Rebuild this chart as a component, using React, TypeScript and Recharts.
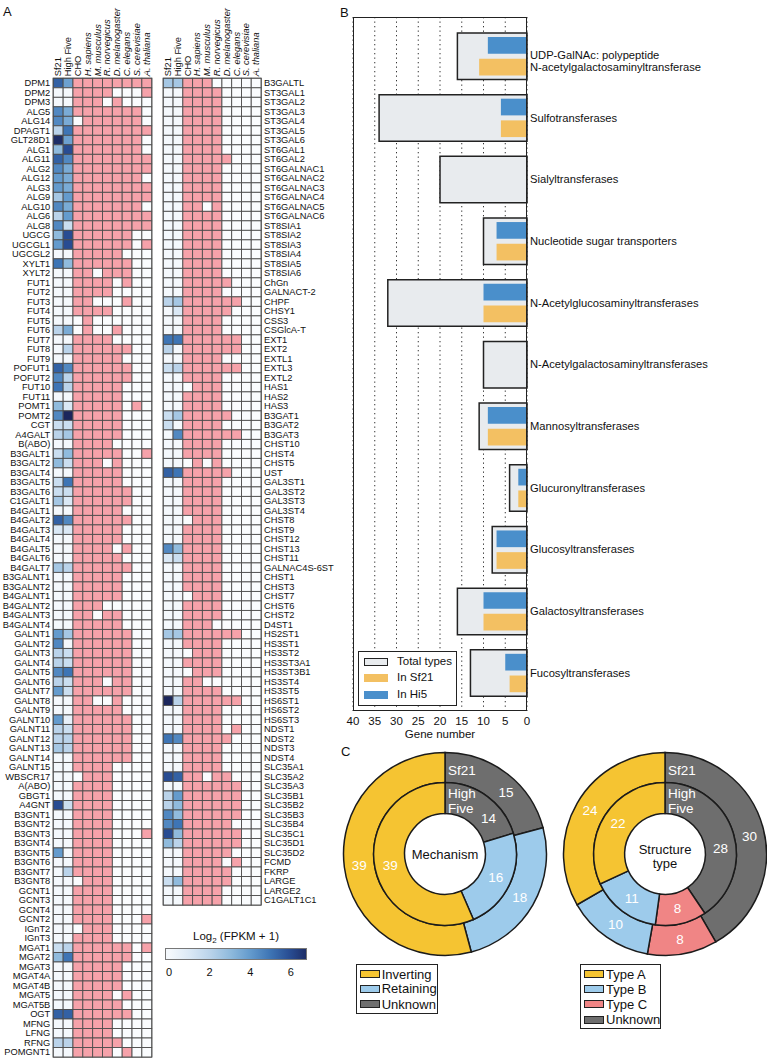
import React from 'react';
import {
  ScatterChart, Scatter, XAxis, YAxis, ReferenceArea, BarChart, Bar, CartesianGrid,
  PieChart, Pie, Cell, ComposedChart,
} from 'recharts';

const FONT = '"Liberation Sans", Arial, Helvetica, sans-serif';

// ---------------- Panel A data ----------------
const COLUMN_LABELS = ['Sf21', 'High Five', 'CHO', 'H. sapiens', 'M. musculus', 'R. norvegicus', 'D. melanogaster', 'C. elegans', 'S. cerevisiae', 'A. thaliana'];
const COLUMN_ITALIC = [false, false, false, true, true, true, true, true, true, true];

const LEFT_GENES = ['DPM1','DPM2','DPM3','ALG5','ALG14','DPAGT1','GLT28D1','ALG1','ALG11','ALG2','ALG12','ALG3','ALG9','ALG10','ALG6','ALG8','UGCG','UGCGL1','UGCGL2','XYLT1','XYLT2',
  'FUT1','FUT2','FUT3','FUT4','FUT5','FUT6','FUT7','FUT8','FUT9','POFUT1','POFUT2','FUT10','FUT11','POMT1','POMT2','CGT','A4GALT','B(ABO)','B3GALT1','B3GALT2','B3GALT4','B3GALT5','B3GALT6','C1GALT1','B4GALT1','B4GALT2','B4GALT3','B4GALT4',
  'B4GALT5','B4GALT6','B4GALT7','B3GALNT1','B3GALNT2','B4GALNT1','B4GALNT2','B4GALNT3','B4GALNT4','GALNT1','GALNT2','GALNT3','GALNT4','GALNT5','GALNT6','GALNT7','GALNT8','GALNT9','GALNT10','GALNT11','GALNT12','GALNT13','GALNT14','GALNT15','WBSCR17','A(ABO)','GBGT1','A4GNT',
  'B3GNT1','B3GNT2','B3GNT3','B3GNT4','B3GNT5','B3GNT6','B3GNT7','B3GNT8','GCNT1','GCNT3','GCNT4','GCNT2','IGnT2','IGnT3','MGAT1','MGAT2','MGAT3','MGAT4A','MGAT4B','MGAT5','MGAT5B','OGT','MFNG','LFNG','RFNG','POMGNT1'];

const LEFT_SF21 = [5.5,0,0,4.5,4.5,2,6.8,3,5.5,4.5,4,4,2.5,4.5,2,4.5,3,4,0,5,0,
  0,0,0,0,0,2,0,0,0,5.5,4.5,5,0,3,4.5,1.5,2,0,1.5,3,0,1.5,1.5,2.5,0,5.5,1,0,
  0,0,2.5,0,0,0,0,0,0,4,4.5,2,2,4.5,2,4,0,0,4,2,2,2.5,0,0,0,0,0,6,
  0,0,0,0,4,0,0,0,0,0,0,0,0,0,1.5,3,0,0,0,0,0,5.5,0,0,2,0];

const LEFT_HI5 = [3.8,0,0,3.5,3.5,5,3.8,6,4.5,3.5,3.5,3.5,4,3.5,4,1.5,6,6,0,3,0,
  0,0,0,0,0,3.5,0,2,0,4.5,2,2,0,1,7,1.5,2.5,0,3,1.5,0,5,1.5,1,0,4.5,1,0,
  0,0,2,0,0,0,0,0,0,2.5,0,1.5,1.5,5,1.5,1.5,0,0,0.5,1.5,2,2,0,0,0,0,0,1.5,
  0,0,0,0,0,0,2,0,0,0,0,0,0,0,2,5,0,0,0,0,0,5.5,0,0,2,0];

// presence in CHO, H.sapiens, M.musculus, R.norvegicus, D.melanogaster, C.elegans, S.cerevisiae, A.thaliana
const LEFT_PRESENCE = ['11111111','11110001','11101000','11111110','01111110','11111111','11111110','11111110','11111111','11111111','11111110','11111111','11111111','11111110','11111111','11111111','11111100','11111101','11111000','11111100','11011100',
  '11110100','11110000','11000100','11110000','01000000','01001000','11110000','11111100','11111000','11111100','11111100','11111000','11111000','11111010','11111000','11111000','11111000','11110000','11111001','11101000','11111000','11111000','11111100','11111100','11111000','11111100','11111000','11111000',
  '11110100','11111000','11111100','11111000','11111000','11111000','11100000','11011000','11111000','11111100','11111100','11111100','11111100','11111100','11101100','11111100','11001000','11111000','11111100','11111100','11111100','11111100','11111100','11110000','01110000','11110000','11110000','11110000',
  '11110000','11110000','11110001','11110000','11110000','11110000','11110000','01110000','11110000','11110000','11110000','11110001','01110000','11110000','11111101','11111100','11111000','11111000','11111000','11110100','11111000','11111100','11110000','11110000','11111000','11110100'];

const RIGHT_GENES = ['B3GALTL','ST3GAL1','ST3GAL2','ST3GAL3','ST3GAL4','ST3GAL5','ST3GAL6','ST6GAL1','ST6GAL2','ST6GALNAC1','ST6GALNAC2','ST6GALNAC3','ST6GALNAC4','ST6GALNAC5','ST6GALNAC6','ST8SIA1','ST8SIA2','ST8SIA3','ST8SIA4','ST8SIA5','ST8SIA6',
  'ChGn','GALNACT-2','CHPF','CHSY1','CSS3','CSGlcA-T','EXT1','EXT2','EXTL1','EXTL3','EXTL2','HAS1','HAS2','HAS3','B3GAT1','B3GAT2','B3GAT3','CHST10','CHST4','CHST5','UST','GAL3ST1','GAL3ST2','GAL3ST3','GAL3ST4','CHST8','CHST9','CHST12',
  'CHST13','CHST11','GALNAC4S-6ST','CHST1','CHST3','CHST7','CHST6','CHST2','D4ST1','HS2ST1','HS3ST1','HS3ST2','HS3ST3A1','HS3ST3B1','HS3ST4','HS3ST5','HS6ST1','HS6ST2','HS6ST3','NDST1','NDST2','NDST3','NDST4','SLC35A1','SLC35A2','SLC35A3','SLC35B1','SLC35B2',
  'SLC35B3','SLC35B4','SLC35C1','SLC35D1','SLC35D2','FCMD','FKRP','LARGE','LARGE2','C1GALT1C1'];

const RIGHT_SF21 = [2.5,0,0,0,0,0,0,0,0,0,0,0,0,0,0,0,0,0,0,0,0,
  0,0,2,0,0,0,5,2,0,1.5,0,0,0,0,1.5,1.5,0,0,0,0,5.5,0,0,0,0,0,0,0,
  4.5,1,0,0,0,0,0,0,0,2.5,0,0,0,0,0,0,7,0,0,0,5,0,0,0,6,0,2,2,
  4.5,4.5,6,3,0,0,0,1.5,0,0];

const RIGHT_HI5 = [2.5,0,0,0,0,0,0,0,0,0,0,0,0,0,0,0,0,0,0,0,0,
  0,0,2.5,1,0,0,5,0,0,2,0,0,0,0,2.5,0,4.5,0,0,0,5,0,0,0,0,0,0,0,
  3,1.5,0,0,0,0,0,0,0,2.5,0,0,0,0,0,0,2,0,0,0,4.5,0,0,0,5.5,0,4,3,
  3,5,3,2,0,0,0,3,0,0];

const RIGHT_PRESENCE = ['11100000','11110000','11110000','11110000','11110000','11110000','11110000','11110000','11111000','11110000','11110000','11110000','11110000','11010000','11110000','11110000','11110000','11110000','11110000','11110000','11110000',
  '11111000','11110000','11111100','11111000','11110000','11110000','11111100','11111100','11110000','11111100','11110000','01110000','11110000','11110000','11111000','11110000','11111100','11110000','11110000','01010000','11111000','11110000','11110000','11110000','11110000','01110000','11110000','11110000',
  '11110000','11110000','11110000','11110000','11110000','01110000','11110000','11110000','11100000','11111100','11110000','01110000','11110000','01110000','11000000','11110000','11111100','11110000','11110000','11110100','11111000','11110000','11110000','11110000','11011000','11111100','11111100','11111100',
  '11111100','11111000','11111100','11111100','11111000','11110100','11111000','11111000','11110000','11110000'];

const COLORBAR_TICKS = [0, 2, 4, 6];
const COLORBAR_MIN = -0.2;
const COLORBAR_MAX = 6.8;

// ---------------- Panel B data ----------------
const B_CATEGORIES = ['UDP-GalNAc: polypeptide\nN-acetylgalactosaminyltransferase', 'Sulfotransferases', 'Sialyltransferases', 'Nucleotide sugar transporters', 'N-Acetylglucosaminyltransferases', 'N-Acetylgalactosaminyltransferases', 'Mannosyltransferases', 'Glucuronyltransferases', 'Glucosyltransferases', 'Galactosyltransferases', 'Fucosyltransferases'];
const B_TOTAL = [16, 34, 20, 10, 32, 10, 11, 4, 8, 16, 13];
const B_SF21 = [11, 6, 0, 7, 10, 0, 9, 2, 7, 10, 4];
const B_HI5 = [9, 6, 0, 7, 10, 0, 9, 2, 7, 10, 5];
const B_TICKS = [0, 5, 10, 15, 20, 25, 30, 35, 40];

// ---------------- Panel C data ----------------
const MECH_NAMES = ['Unknown', 'Retaining', 'Inverting'];
const MECH_SF21 = [15, 18, 39];
const MECH_HI5 = [14, 16, 39];
const STRUCT_NAMES = ['Unknown', 'Type C', 'Type B', 'Type A'];
const STRUCT_SF21 = [30, 8, 10, 24];
const STRUCT_HI5 = [28, 8, 11, 22];

// ---------------- Styles ----------------
const PINK = '#f6a2aa';
const ABSENT = '#fafcfe';
const GRID_STROKE = '#4d4d4d';
const B_BLUE = '#4a8fcb';
const B_ORANGE = '#f3c062';
const B_GREY = '#e8ebee';
const C_COLORS: Record<string, string> = {
  Unknown: '#6e6e6e', Retaining: '#9dcbeb', Inverting: '#f5c432',
  'Type A': '#f5c432', 'Type B': '#9dcbeb', 'Type C': '#f08585',
};

const BLUE_STOPS: [number, number[]][] = [
  [0, [244, 248, 252]],
  [1, [218, 232, 245]],
  [2, [186, 211, 234]],
  [3, [144, 187, 221]],
  [4, [100, 155, 205]],
  [5, [62, 117, 181]],
  [6, [40, 76, 146]],
  [7, [27, 38, 92]],
];

function blueScale(v: number): string {
  const x = Math.max(0, Math.min(7, v));
  for (let i = 0; i < BLUE_STOPS.length - 1; i++) {
    const [a, ca] = BLUE_STOPS[i];
    const [b, cb] = BLUE_STOPS[i + 1];
    if (x >= a && x <= b) {
      const t = (x - a) / (b - a);
      const c = ca.map((q, k) => Math.round(q + (cb[k] - q) * t));
      return `rgb(${c[0]},${c[1]},${c[2]})`;
    }
  }
  return 'rgb(27,38,92)';
}

// ---------------- Heatmap ----------------
type HeatProps = {
  genes: string[]; sf: number[]; hi: number[]; pres: string[];
  side: 'left' | 'right'; width: number; height: number;
  margin: { top: number; right: number; bottom: number; left: number };
  yAxisWidth: number; xAxisHeight: number;
};

function Heatmap(p: HeatProps) {
  const n = p.genes.length;
  const plotW = p.width - p.margin.left - p.margin.right - p.yAxisWidth;
  const plotH = p.height - p.margin.top - p.margin.bottom - p.xAxisHeight;
  const cw = plotW / 10;
  const ch = plotH / n;
  const data: { col: number; row: number; fill: string }[] = [];
  p.genes.forEach((_, i) => {
    data.push({ col: 0, row: i, fill: blueScale(p.sf[i]) });
    data.push({ col: 1, row: i, fill: blueScale(p.hi[i]) });
    for (let c = 0; c < 8; c++) {
      data.push({ col: c + 2, row: i, fill: p.pres[i][c] === '1' ? PINK : ABSENT });
    }
  });
  const rowTicks = p.genes.map((_, i) => i);
  const isLeft = p.side === 'left';
  const shape = (sp: any) => (
    <rect x={sp.cx - cw / 2} y={sp.cy - ch / 2} width={cw} height={ch}
      fill={sp.payload.fill} stroke={GRID_STROKE} strokeWidth={0.9} />
  );
  const geneTick = (tp: any) => (
    <text x={tp.x} y={tp.y} textAnchor={isLeft ? 'end' : 'start'} dominantBaseline="central"
      fontSize={9.3} fontFamily={FONT} fill="#111">{p.genes[tp.payload.value]}</text>
  );
  const colTick = (tp: any) => (
    <text x={tp.x} y={tp.y} transform={`rotate(-90 ${tp.x} ${tp.y})`} textAnchor="start"
      dominantBaseline="central" fontSize={9.3} fontFamily={FONT} fill="#111"
      fontStyle={COLUMN_ITALIC[tp.payload.value] ? 'italic' : 'normal'}>
      {COLUMN_LABELS[tp.payload.value]}
    </text>
  );
  return (
    <ScatterChart width={p.width} height={p.height} margin={p.margin}>
      <XAxis type="number" dataKey="col" orientation="top" domain={[-0.5, 9.5]}
        ticks={[0, 1, 2, 3, 4, 5, 6, 7, 8, 9]} interval={0} height={p.xAxisHeight}
        axisLine={false} tickLine={false} tickSize={0} tickMargin={2} tick={colTick} />
      <YAxis type="number" dataKey="row" orientation={isLeft ? 'left' : 'right'}
        domain={[-0.5, n - 0.5]} reversed ticks={rowTicks} interval={0} width={p.yAxisWidth}
        axisLine={false} tickLine={false} tickSize={0} tickMargin={3} tick={geneTick} />
      <Scatter data={data} shape={shape} isAnimationActive={false} />
      <ReferenceArea x1={-0.5} x2={9.5} y1={-0.5} y2={n - 0.5} fill="none" stroke="#222" strokeWidth={1.2} />
    </ScatterChart>
  );
}

function ColorBar() {
  const span = COLORBAR_MAX - COLORBAR_MIN;
  const stops = [0, 1, 2, 3, 4, 5, 6, 7].map((s) => `${blueScale(s)} ${(((s - COLORBAR_MIN) / span) * 100).toFixed(1)}%`);
  return (
    <div style={{ position: 'relative', width: 160, height: 34 }}>
      <div style={{ position: 'absolute', left: 10, top: 2, width: 142, height: 12, boxSizing: 'border-box', border: '0.6px solid #777', background: `linear-gradient(to right, ${stops.join(', ')})` }} />
      <div style={{ position: 'absolute', left: 0, top: 0 }}>
        <ComposedChart width={160} height={34} data={[{ x: COLORBAR_MIN, y: 0 }, { x: COLORBAR_MAX, y: 1 }]}
          margin={{ top: 2, right: 8, bottom: 0, left: 10 }}>
          <XAxis type="number" dataKey="x" domain={[COLORBAR_MIN, COLORBAR_MAX]} ticks={COLORBAR_TICKS}
            height={20} axisLine={false} tickLine={false} tickMargin={2}
            tick={{ fontSize: 11, fill: '#111', fontFamily: FONT }} />
          <YAxis type="number" domain={[0, 1]} hide />
        </ComposedChart>
      </div>
    </div>
  );
}

// ---------------- Panel B ----------------
function BarPanel() {
  const data = B_CATEGORIES.map((name, i) => ({ name, total: B_TOTAL[i], sf21: B_SF21[i], hi5: B_HI5[i] }));
  const catTick = (tp: any) => {
    const lines = String(tp.payload.value).split('\n');
    if (lines.length === 1) {
      return <text x={tp.x} y={tp.y} dominantBaseline="central" fontSize={11.2} fontFamily={FONT} fill="#111">{lines[0]}</text>;
    }
    return (
      <text x={tp.x} y={tp.y} fontSize={11.2} fontFamily={FONT} fill="#111">
        <tspan x={tp.x} y={tp.y - 1} dominantBaseline="central">{lines[0]}</tspan>
        <tspan x={tp.x} y={tp.y + 11} dominantBaseline="central">{lines[1]}</tspan>
      </text>
    );
  };
  const pad = { top: 8, bottom: 7.5 };
  return (
    <BarChart layout="vertical" width={467} height={742} data={data}
      margin={{ top: 17, right: 0, bottom: 4, left: 53 }} barGap={5}>
      <CartesianGrid yAxisId="a" horizontal={false} stroke="#333" strokeDasharray="1.3 3.2" />
      <XAxis type="number" domain={[0, 40]} reversed ticks={B_TICKS} interval={0} height={27}
        axisLine={false} tickLine={false} tickMargin={0}
        tick={{ fontSize: 11.5, fill: '#111', fontFamily: FONT }}
        label={{ value: 'Gene number', position: 'insideBottom', offset: 0, fontSize: 11.5, fill: '#111', fontFamily: FONT }} />
      <YAxis yAxisId="a" type="category" dataKey="name" orientation="right" width={240}
        axisLine={false} tickLine={false} tickSize={0} tickMargin={3} tick={catTick} padding={pad} interval={0} />
      <YAxis yAxisId="b" type="category" dataKey="name" hide padding={pad} />
      <Bar yAxisId="a" dataKey="total" barSize={46.5} fill={B_GREY} stroke="#222" strokeWidth={1.5} isAnimationActive={false} />
      <Bar yAxisId="b" dataKey="hi5" barSize={16.7} fill={B_BLUE} isAnimationActive={false} />
      <Bar yAxisId="b" dataKey="sf21" barSize={16.7} fill={B_ORANGE} isAnimationActive={false} />
    </BarChart>
  );
}

// ---------------- Panel C ----------------
const RAD = Math.PI / 180;

type DonutProps = {
  names: string[]; outer: number[]; inner: number[];
  width: number; centerLines: string[]; greyFracOuter: number; greyFracInner: number;
};

function Donut(p: DonutProps) {
  const outerData = p.names.map((name, i) => ({ name, value: p.outer[i] }));
  const innerData = p.names.map((name, i) => ({ name, value: p.inner[i] }));
  const totO = p.outer.reduce((a, b) => a + b, 0);
  const totI = p.inner.reduce((a, b) => a + b, 0);
  const mk = (total: number, frac: number, isOuter: boolean) => (lp: any) => {
    const { cx, cy, midAngle, innerRadius, outerRadius, index, value } = lp;
    let ang = midAngle;
    if (index === 0) ang = 90 - frac * (value / total) * 360;
    const r = (innerRadius + outerRadius) / 2;
    const x = cx + r * Math.cos(-ang * RAD);
    const y = cy + r * Math.sin(-ang * RAD);
    return (
      <g key={`lab-${isOuter ? 'o' : 'i'}-${index}`}>
        <text x={x} y={y} textAnchor="middle" dominantBaseline="central" fontSize={13.5} fontFamily={FONT} fill="#fff">{value}</text>
        {index === 0 && isOuter && (
          <text x={cx + 3} y={cy - 84} dominantBaseline="central" fontSize={13.5} fontFamily={FONT} fill="#fff">Sf21</text>
        )}
        {index === 0 && !isOuter && (
          <g>
            <text x={cx + 3} y={cy - 61} dominantBaseline="central" fontSize={13.5} fontFamily={FONT} fill="#fff">High</text>
            <text x={cx + 3} y={cy - 46} dominantBaseline="central" fontSize={13.5} fontFamily={FONT} fill="#fff">Five</text>
            {p.centerLines.map((t, k) => (
              <text key={t} x={cx} y={cy + (k - (p.centerLines.length - 1) / 2) * 14 + (p.centerLines.length > 1 ? 2 : 0)}
                textAnchor="middle" dominantBaseline="central" fontSize={13} fontFamily={FONT} fill="#111">{t}</text>
            ))}
          </g>
        )}
      </g>
    );
  };
  return (
    <PieChart width={p.width} height={210} margin={{ top: 0, right: 0, bottom: 0, left: 0 }}>
      <Pie data={outerData} dataKey="value" nameKey="name" cx={105} cy={105} innerRadius={71.4} outerRadius={101.5}
        startAngle={90} endAngle={-270} stroke="#1b1b1b" strokeWidth={1.5} isAnimationActive={false}
        labelLine={false} label={mk(totO, p.greyFracOuter, true)}>
        {outerData.map((d) => <Cell key={d.name} fill={C_COLORS[d.name]} />)}
      </Pie>
      <Pie data={innerData} dataKey="value" nameKey="name" cx={105} cy={105} innerRadius={40.4} outerRadius={71.4}
        startAngle={90} endAngle={-270} stroke="#1b1b1b" strokeWidth={1.5} isAnimationActive={false}
        labelLine={false} label={mk(totI, p.greyFracInner, false)}>
        {innerData.map((d) => <Cell key={d.name} fill={C_COLORS[d.name]} />)}
      </Pie>
    </PieChart>
  );
}

// ---------------- Layout helpers ----------------
const Abs = ({ l, t, children, style }: any) => (
  <div style={{ position: 'absolute', left: l, top: t, ...style }}>{children}</div>
);

function LegendBox({ l, t, w, h, items, swW, swH, swX, textX, rowYs, fontSize }: any) {
  return (
    <div style={{ position: 'absolute', left: l, top: t, width: w, height: h, border: '1.5px solid #222', boxSizing: 'border-box', background: '#fff' }}>
      {items.map((it: any, i: number) => (
        <React.Fragment key={it.label}>
          <div style={{ position: 'absolute', left: swX, top: rowYs[i] - swH / 2, width: swW, height: swH, background: it.color, border: it.border ? '1.5px solid #222' : 'none', boxSizing: 'border-box' }} />
          <div style={{ position: 'absolute', left: textX, top: rowYs[i] - fontSize * 0.6, fontSize, lineHeight: `${fontSize * 1.2}px`, whiteSpace: 'nowrap', color: '#111' }}>{it.label}</div>
        </React.Fragment>
      ))}
    </div>
  );
}

export default function App() {
  return (
    <div style={{ position: 'absolute', left: 0, top: 0, width: 767, height: 1061, overflow: 'hidden', background: '#fff', fontFamily: FONT, color: '#111' }}>
      {/* Panel letters */}
      <Abs l={3} t={4} style={{ fontSize: 13, lineHeight: '16px' }}>A</Abs>
      <Abs l={340} t={5} style={{ fontSize: 13, lineHeight: '16px' }}>B</Abs>
      <Abs l={341} t={744} style={{ fontSize: 13, lineHeight: '16px' }}>C</Abs>

      {/* Panel A heatmaps */}
      <Abs l={0} t={0}>
        <Heatmap genes={LEFT_GENES} sf={LEFT_SF21} hi={LEFT_HI5} pres={LEFT_PRESENCE} side="left"
          width={160} height={1061} margin={{ top: 0, right: 8.3, bottom: 4, left: 0 }} yAxisWidth={53.3} xAxisHeight={78.3} />
      </Abs>
      <Abs l={155} t={0}>
        <Heatmap genes={RIGHT_GENES} sf={RIGHT_SF21} hi={RIGHT_HI5} pres={RIGHT_PRESENCE} side="right"
          width={182} height={909} margin={{ top: 0, right: 0, bottom: 4, left: 8.3 }} yAxisWidth={76} xAxisHeight={78.3} />
      </Abs>
      <Abs l={165} t={929} style={{ width: 142, textAlign: 'center', fontSize: 11.5, lineHeight: '14px', whiteSpace: 'nowrap' }}>
        Log<sub style={{ fontSize: 8 }}>2</sub> (FPKM + 1)
      </Abs>
      <Abs l={155} t={946}>
        <ColorBar />
      </Abs>

      {/* Panel B */}
      <Abs l={300} t={0}>
        <BarPanel />
      </Abs>
      <div style={{ position: 'absolute', left: 353, top: 17, width: 174, height: 694, border: '1.3px solid #222', boxSizing: 'border-box', pointerEvents: 'none' }} />
      <LegendBox l={358} t={651} w={99} h={55} swX={5} swW={24} swH={8} textX={38} fontSize={11.5}
        rowYs={[10, 26, 43]}
        items={[{ label: 'Total types', color: B_GREY, border: true }, { label: 'In Sf21', color: B_ORANGE }, { label: 'In Hi5', color: B_BLUE }]} />

      {/* Panel C */}
      <Abs l={339.7} t={749}>
        <Donut names={MECH_NAMES} outer={MECH_SF21} inner={MECH_HI5} width={210} centerLines={['Mechanism']} greyFracOuter={0.6} greyFracInner={0.7} />
      </Abs>
      <Abs l={559.5} t={749}>
        <Donut names={STRUCT_NAMES} outer={STRUCT_SF21} inner={STRUCT_HI5} width={207.5} centerLines={['Structure', 'type']} greyFracOuter={0.52} greyFracInner={0.575} />
      </Abs>
      <LegendBox l={355.7} t={964} w={82} h={50} swX={3} swW={20} swH={8} textX={25} fontSize={13}
        rowYs={[9.3, 23.7, 39.3]}
        items={[{ label: 'Inverting', color: C_COLORS.Inverting, border: true }, { label: 'Retaining', color: C_COLORS.Retaining, border: true }, { label: 'Unknown', color: C_COLORS.Unknown, border: true }]} />
      <LegendBox l={580} t={964} w={81} h={65} swX={3} swW={20} swH={8} textX={25} fontSize={13}
        rowYs={[9.3, 24.3, 39.3, 55]}
        items={[{ label: 'Type A', color: C_COLORS['Type A'], border: true }, { label: 'Type B', color: C_COLORS['Type B'], border: true }, { label: 'Type C', color: C_COLORS['Type C'], border: true }, { label: 'Unknown', color: C_COLORS.Unknown, border: true }]} />
    </div>
  );
}
